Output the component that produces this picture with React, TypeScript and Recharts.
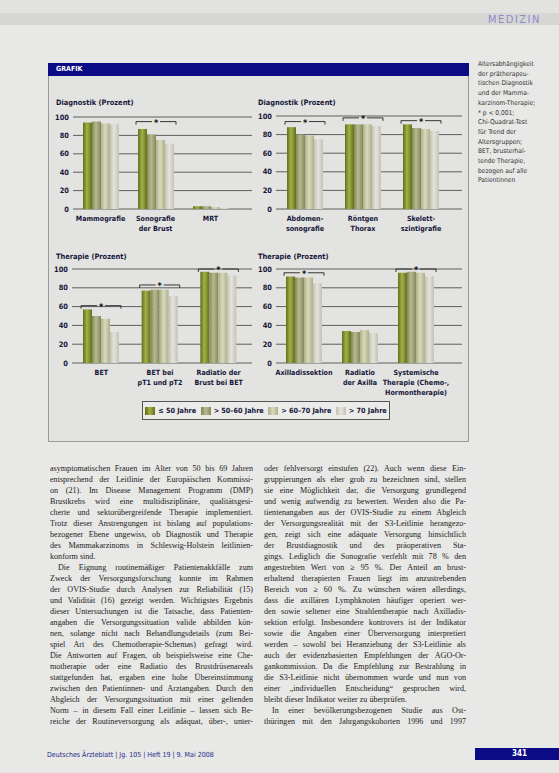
import React from 'react';
import { BarChart, Bar, XAxis, YAxis, CartesianGrid } from 'recharts';

const ageGroups = ['≤ 50 Jahre', '> 50–60 Jahre', '> 60–70 Jahre', '> 70 Jahre'];
const yTicks = [0, 20, 40, 60, 80, 100];

// Diagnostik links
const diagLeftCats = ['Mammografie', 'Sonografie|der Brust', 'MRT'];
const diagLeftAge1 = [94, 87, 3];
const diagLeftAge2 = [95, 81, 3];
const diagLeftAge3 = [93, 75, 2];
const diagLeftAge4 = [92, 71, 1];
const diagLeftSig = [null, 95, null];

// Diagnostik rechts
const diagRightCats = ['Abdomen-|sonografie', 'Röntgen|Thorax', 'Skelett-|szintigrafie'];
const diagRightAge1 = [88, 91, 91];
const diagRightAge2 = [80, 91, 87];
const diagRightAge3 = [79, 91, 86];
const diagRightAge4 = [75, 89, 84];
const diagRightSig = [94, 98, 95];

// Therapie links
const therLeftCats = ['BET', 'BET bei|pT1 und pT2', 'Radiatio der|Brust bei BET'];
const therLeftAge1 = [57, 77, 97];
const therLeftAge2 = [50, 78, 96];
const therLeftAge3 = [47, 78, 96];
const therLeftAge4 = [33, 71, 93];
const therLeftSig = [61, 83, 100];

// Therapie rechts
const therRightCats = ['Axilladissektion', 'Radiatio|der Axilla', 'Systemische|Therapie (Chemo-,|Hormontherapie)'];
const therRightAge1 = [92, 34, 96];
const therRightAge2 = [91, 33, 97];
const therRightAge3 = [91, 35, 96];
const therRightAge4 = [85, 32, 92];
const therRightSig = [96, null, 100];

const captionLines = [
  'Altersabhängigkeit',
  'der prätherapeu-',
  'tischen Diagnostik',
  'und der Mamma-',
  'karzinom-Therapie;',
  '* p < 0,001;',
  'Chi-Quadrat-Test',
  'für Trend der',
  'Altersgruppen;',
  'BET, brusterhal-',
  'tende Therapie,',
  'bezogen auf alle',
  'Patientinnen',
];

const leftColumn = [
  'asymptomatischen Frauen im Alter von 50 bis 69 Jahren',
  'entsprechend der Leitlinie der Europäischen Kommissi-',
  'on (21). Im Disease Management Programm (DMP)',
  'Brustkrebs wird eine multidisziplinäre, qualitätsgesi-',
  'cherte und sektorübergreifende Therapie implementiert.',
  'Trotz dieser Anstrengungen ist bislang auf populations-',
  'bezogener Ebene ungewiss, ob Diagnostik und Therapie',
  'des Mammakarzinoms in Schleswig-Holstein leitlinien-',
  'konform sind.',
  '¶Die Eignung routinemäßiger Patientenakkfälle zum',
  'Zweck der Versorgungsforschung konnte im Rahmen',
  'der OVIS-Studie durch Analysen zur Reliabilität (15)',
  'und Validität (16) gezeigt werden. Wichtigstes Ergebnis',
  'dieser Untersuchungen ist die Tatsache, dass Patienten-',
  'angaben die Versorgungssituation valide abbilden kön-',
  'nen, solange nicht nach Behandlungsdetails (zum Bei-',
  'spiel Art des Chemotherapie-Schemas) gefragt wird.',
  'Die Antworten auf Fragen, ob beispielsweise eine Che-',
  'motherapie oder eine Radiatio des Brustdrüsenareals',
  'stattgefunden hat, ergaben eine hohe Übereinstimmung',
  'zwischen den Patientinnen- und Arztangaben. Durch den',
  'Abgleich der Versorgungssituation mit einer geltenden',
  'Norm – in diesem Fall einer Leitlinie – lassen sich Be-',
  'reiche der Routineversorgung als adäquat, über-, unter-',
];

const rightColumn = [
  'oder fehlversorgt einstufen (22). Auch wenn diese Ein-',
  'gruppierungen als eher grob zu bezeichnen sind, stellen',
  'sie eine Möglichkeit dar, die Versorgung grundlegend',
  'und wenig aufwendig zu bewerten. Werden also die Pa-',
  'tientenangaben aus der OVIS-Studie zu einem Abgleich',
  'der Versorgungsrealität mit der S3-Leitlinie herangezo-',
  'gen, zeigt sich eine adäquate Versorgung hinsichtlich',
  'der Brustdiagnostik und des präoperativen Sta-',
  'gings. Lediglich die Sonografie verfehlt mit 78 % den',
  'angestrebten Wert von ≥ 95 %. Der Anteil an brust-',
  'erhaltend therapierten Frauen liegt im anzustrebenden',
  'Bereich von ≥ 60 %. Zu wünschen wären allerdings,',
  'dass die axillären Lymphknoten häufiger operiert wer-',
  'den sowie seltener eine Strahlentherapie nach Axilladis-',
  'sektion erfolgt. Insbesondere kontrovers ist der Indikator',
  'sowie die Angaben einer Überversorgung interpretiert',
  'werden – sowohl bei Heranziehung der S3-Leitlinie als',
  'auch der evidenzbasierten Empfehlungen der AGO-Or-',
  'gankommission. Da die Empfehlung zur Bestrahlung in',
  'die S3-Leitlinie nicht übernommen wurde und nun von',
  'einer „individuellen Entscheidung“ gesprochen wird,',
  'bleibt dieser Indikator weiter zu überprüfen.',
  '¶In einer bevölkerungsbezogenen Studie aus Ost-',
  'thüringen mit den Jahrgangskohorten 1996 und 1997',
];

const seriesColors = [
  ['#617019', '#a3b04a'],
  ['#83885a', '#b7ba90'],
  ['#adb08a', '#d9dabd'],
  ['#c2c2b6', '#e4e4dc'],
];

const sans = '"DejaVu Sans Condensed", "Liberation Sans", Arial, sans-serif';
const serif = '"Liberation Serif", "DejaVu Serif", serif';

const buildRows = (cats, a1, a2, a3, a4, sig) =>
  cats.map((name, i) => ({ name, a1: a1[i], a2: a2[i], a3: a3[i], a4: a4[i], sig: sig[i] }));

const CatTick = ({ x, y, payload }: any) => {
  const lines = String(payload.value).split('|');
  return (
    <text x={x} y={y + 4} textAnchor="middle" fontSize={7.1} fontWeight={700} fill="#16173a" fontFamily={sans}>
      {lines.map((l, i) => (
        <tspan key={i} x={x} dy={i === 0 ? 0 : 10}>{l}</tspan>
      ))}
    </text>
  );
};

const Bracket = (props: any) => {
  const { x, y, width, payload } = props;
  if (!payload || payload.sig == null) return null;
  const cx = x + width / 2;
  return (
    <g>
      <path d={`M${x},${y + 3}V${y}H${cx - 4}M${cx + 4},${y}H${x + width}V${y + 3}`} stroke="#222" strokeWidth={0.9} fill="none" />
      <text x={cx} y={y + 4} textAnchor="middle" fontSize={9} fontWeight={700} fill="#111" fontFamily={sans}>*</text>
    </g>
  );
};

const Panel = ({ id, rows, left, top, width, plotH, padRight }: any) => (
  <div style={{ position: 'absolute', left, top }}>
    <BarChart width={width} height={17 + plotH + 38} data={rows} margin={{ top: 17, right: 0, bottom: 0, left: 0 }} barGap={0}>
      <defs>
        {seriesColors.map((c, i) => (
          <linearGradient key={i} id={`${id}-g${i}`} x1="0" y1="0" x2="1" y2="0">
            <stop offset="0%" stopColor={c[0]} />
            <stop offset="45%" stopColor={c[1]} />
            <stop offset="100%" stopColor={c[0]} />
          </linearGradient>
        ))}
      </defs>
      <CartesianGrid vertical={false} stroke="#3c3c3c" strokeWidth={0.8} />
      <XAxis dataKey="name" axisLine={false} tickLine={false} interval={0} height={38} tick={<CatTick />} padding={{ left: 0, right: padRight }} />
      <XAxis xAxisId="sig" dataKey="name" hide padding={{ left: 0, right: padRight }} />
      <YAxis
        domain={[0, 100]}
        ticks={yTicks}
        interval={0}
        width={28}
        axisLine={false}
        tickLine={false}
        tickSize={0}
        tickMargin={4}
        tick={{ fontSize: 7.4, fontWeight: 700, fill: '#16173a', fontFamily: sans }}
      />
      {['a1', 'a2', 'a3', 'a4'].map((k, i) => (
        <Bar key={k} dataKey={k} barSize={9} fill={`url(#${id}-g${i})`} isAnimationActive={false} />
      ))}
      <Bar xAxisId="sig" dataKey="sig" barSize={40} shape={Bracket} isAnimationActive={false} />
    </BarChart>
  </div>
);

const TextColumn = ({ lines, left, top, width }: any) => (
  <div style={{ position: 'absolute', left, top, width, fontFamily: serif, fontSize: 8.1, color: '#222', lineHeight: '11px' }}>
    {lines.map((l, i) => {
      const indent = l.startsWith('¶');
      const text = indent ? l.slice(1) : l;
      const last = i === lines.length - 1 || (lines[i + 1] && lines[i + 1].startsWith('¶'));
      return (
        <div key={i} style={{ height: 11, overflow: 'hidden', paddingLeft: indent ? 8 : 0, textAlign: 'justify', textAlignLast: last && i !== lines.length - 1 ? 'left' : 'justify' }}>
          {text}
        </div>
      );
    })}
  </div>
);

const label = (text, left, top) => (
  <div style={{ position: 'absolute', left, top, fontFamily: sans, fontWeight: 700, fontSize: 7.4, color: '#16173a' }}>{text}</div>
);

export default function App() {
  return (
    <div style={{ position: 'absolute', left: 0, top: 0, width: 559, height: 773, background: '#e8e8e6', overflow: 'hidden' }}>
      {/* Kopfzeile */}
      <div style={{ position: 'absolute', left: 0, top: 0, width: 559, height: 13, background: '#e2e2e0' }} />
      <div style={{ position: 'absolute', left: 0, top: 13, width: 559, height: 12, background: '#d6d6d4' }} />
      <div style={{ position: 'absolute', left: 488, top: 13, fontFamily: sans, fontSize: 11, letterSpacing: 1.5, color: '#8d8bc9' }}>MEDIZIN</div>

      {/* Grafik-Rahmen */}
      <div style={{ position: 'absolute', left: 48, top: 63, width: 419, height: 377, background: '#e3e3e1', border: '1px solid #9a9a9a' }} />
      <div style={{ position: 'absolute', left: 48, top: 63, width: 421, height: 13, background: '#0b0b86' }} />
      <div style={{ position: 'absolute', left: 56, top: 65, fontFamily: sans, fontWeight: 700, fontSize: 7, color: '#fff' }}>GRAFIK</div>

      {label('Diagnostik (Prozent)', 56, 98)}
      {label('Diagnostik (Prozent)', 258, 98)}
      {label('Therapie (Prozent)', 56, 252)}
      {label('Therapie (Prozent)', 258, 252)}

      <Panel id="p1" rows={buildRows(diagLeftCats, diagLeftAge1, diagLeftAge2, diagLeftAge3, diagLeftAge4, diagLeftSig)} left={45} top={100} width={207} plotH={92} padRight={14} />
      <Panel id="p2" rows={buildRows(diagRightCats, diagRightAge1, diagRightAge2, diagRightAge3, diagRightAge4, diagRightSig)} left={248} top={99} width={214} plotH={93} padRight={12} />
      <Panel id="p3" rows={buildRows(therLeftCats, therLeftAge1, therLeftAge2, therLeftAge3, therLeftAge4, therLeftSig)} left={44} top={252} width={208} plotH={94} padRight={4} />
      <Panel id="p4" rows={buildRows(therRightCats, therRightAge1, therRightAge2, therRightAge3, therRightAge4, therRightSig)} left={248} top={252} width={214} plotH={94} padRight={18} />

      {/* Legende */}
      <div style={{ position: 'absolute', left: 142, top: 401, width: 246, height: 17, border: '1px solid #555', background: '#ebebea', display: 'flex', alignItems: 'center', justifyContent: 'space-around', fontFamily: sans, fontWeight: 700, fontSize: 7.2, color: '#16173a' }}>
        {ageGroups.map((g, i) => (
          <div key={g} style={{ display: 'flex', alignItems: 'center' }}>
            <div style={{ width: 10, height: 8, marginRight: 3, background: `linear-gradient(90deg, ${seriesColors[i][0]}, ${seriesColors[i][1]}, ${seriesColors[i][0]})` }} />
            {g}
          </div>
        ))}
      </div>

      {/* Bildunterschrift */}
      <div style={{ position: 'absolute', left: 478, top: 60, fontFamily: sans, fontSize: 6.6, lineHeight: '9.7px', color: '#333' }}>
        {captionLines.map((l, i) => <div key={i}>{l}</div>)}
      </div>

      <TextColumn lines={leftColumn} left={50} top={463} width={203} />
      <TextColumn lines={rightColumn} left={264} top={463} width={202} />

      {/* Fußzeile */}
      <div style={{ position: 'absolute', left: 47, top: 751, fontFamily: sans, fontSize: 7, color: '#232a86' }}>Deutsches Ärzteblatt | Jg. 105 | Heft 19 | 9. Mai 2008</div>
      <div style={{ position: 'absolute', left: 475, top: 748, width: 84, height: 12, background: '#0b0b86' }} />
      <div style={{ position: 'absolute', left: 512, top: 749, fontFamily: sans, fontWeight: 700, fontSize: 8, color: '#fff' }}>341</div>
    </div>
  );
}
